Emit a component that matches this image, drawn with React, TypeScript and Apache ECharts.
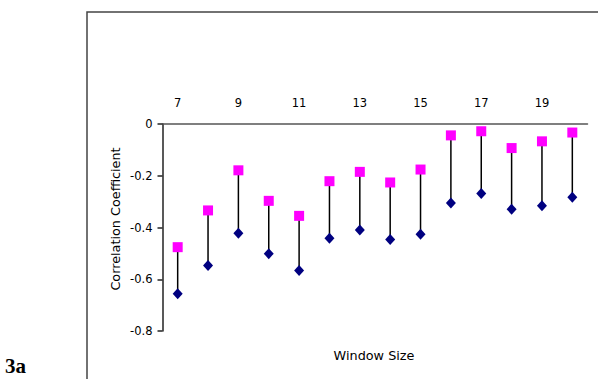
import React, { useEffect, useRef } from "react";
import * as echarts from "echarts";

const windowSizes = ["7", "8", "9", "10", "11", "12", "13", "14", "15", "16", "17", "18", "19", "20"];
const upperValues = [-0.476, -0.334, -0.179, -0.297, -0.355, -0.221, -0.185, -0.226, -0.176, -0.044, -0.028, -0.093, -0.067, -0.033];
const lowerValues = [-0.656, -0.547, -0.422, -0.501, -0.566, -0.442, -0.41, -0.446, -0.426, -0.305, -0.269, -0.329, -0.316, -0.283];
const yTicks = { min: -0.8, max: 0, interval: 0.2 };

export default function App() {
  const ref = useRef<HTMLDivElement>(null);
  useEffect(() => {
    if (!ref.current) return;
    const chart = echarts.init(ref.current, null, { renderer: "svg" });
    const font = "DejaVu Sans";
    const stems = windowSizes.map((_, i) => [i, upperValues[i], lowerValues[i]]);
    chart.setOption({
      animation: false,
      backgroundColor: "#fff",
      textStyle: { fontFamily: font },
      grid: { left: 162.5, top: 124, right: 10.5, bottom: 48 },
      xAxis: {
        type: "category",
        data: windowSizes,
        position: "top",
        boundaryGap: true,
        axisLine: { show: true, lineStyle: { color: "#555", width: 1.5 } },
        axisTick: { show: false },
        axisLabel: { interval: 1, color: "#000", fontSize: 11.5, fontFamily: font, margin: 15 },
        splitLine: { show: false },
      },
      yAxis: {
        type: "value",
        min: yTicks.min,
        max: yTicks.max,
        interval: yTicks.interval,
        axisLine: { show: true, onZero: false, lineStyle: { color: "#222", width: 1.5 } },
        axisTick: { show: true, length: 5, lineStyle: { color: "#222", width: 1.5 } },
        axisLabel: { color: "#000", fontSize: 11.5, fontFamily: font, margin: 10, formatter: (v: number) => (v === 0 ? "0" : String(Math.round(v * 10) / 10)) },
        splitLine: { show: false },
      },
      graphic: [
        { type: "rect", shape: { x: 87, y: 12, width: 530, height: 400 }, style: { fill: "none", stroke: "#444", lineWidth: 1.5 }, silent: true },
        { type: "text", x: 5, y: 376, style: { text: "3a", font: "bold 21px 'Liberation Serif'", fill: "#000", verticalAlign: "bottom" } },
        { type: "text", x: 115, y: 219, rotation: Math.PI / 2, style: { text: "Correlation Coefficient", font: `12.8px '${font}'`, fill: "#000", align: "center", verticalAlign: "middle" } },
        { type: "text", x: 374, y: 355, style: { text: "Window Size", font: `12.8px '${font}'`, fill: "#000", align: "center", verticalAlign: "middle" } },
      ],
      series: [
        {
          type: "custom",
          data: stems,
          renderItem: (params: any, api: any) => {
            const a = api.coord([api.value(0), api.value(1)]);
            const b = api.coord([api.value(0), api.value(2)]);
            return { type: "line", shape: { x1: a[0], y1: a[1], x2: b[0], y2: b[1] }, style: { stroke: "#000", lineWidth: 1.5 } };
          },
          z: 1,
        },
        { type: "scatter", data: upperValues, symbol: "rect", symbolSize: 10, itemStyle: { color: "#ff00ff", opacity: 1 }, z: 3 },
        { type: "scatter", data: lowerValues, symbol: "diamond", symbolSize: [10, 11], itemStyle: { color: "#000080", opacity: 1 }, z: 3 },
      ],
    });
    return () => chart.dispose();
  }, []);
  return <div ref={ref} style={{ position: "absolute", left: 0, top: 0, width: 598, height: 379 }} />;
}
